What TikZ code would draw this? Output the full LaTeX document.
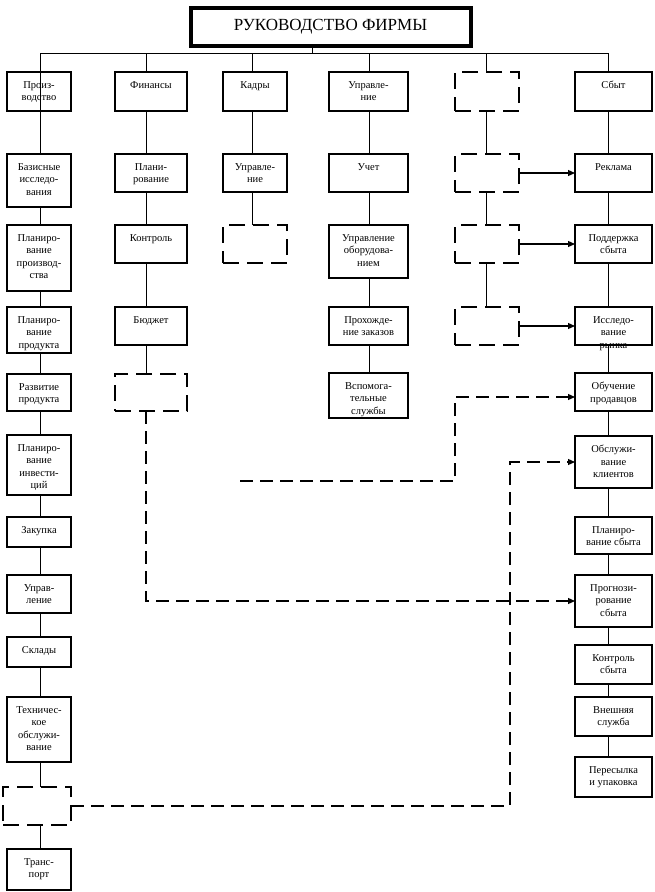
\documentclass[tikz,border=0pt]{standalone}
\usepackage{fontspec}
\setmainfont{Liberation Serif}
\usetikzlibrary{arrows.meta,backgrounds}

\begin{document}
\begin{tikzpicture}[x=1pt,y=-1pt,
  unit/.style={draw, line width=1.9pt, fill=white, anchor=north west, inner sep=0pt, outer sep=0pt},
  blank/.style={unit, line width=2.1pt, dash pattern=on 16pt off 8pt},
  lbl/.style={anchor=north, align=center, inner sep=0pt, yshift=-9pt, font=\fontsize{10.5}{12.5}\selectfont},
  wire/.style={line width=0.8pt},
  feed/.style={line width=1.2pt, -{Triangle[length=7pt,width=6pt]}},
  link/.style={feed, dash pattern=on 13pt off 7pt}]
\useasboundingbox (0,0) rectangle (654,892);
% head of the firm
\node[draw, line width=4pt, minimum width=280pt, minimum height=38pt, inner sep=0pt, anchor=north west, font=\fontsize{17}{20}\selectfont] (head) at (188.5,5.5) {РУКОВОДСТВО ФИРМЫ};
\coordinate (top) at (312,53);
\coordinate (c1) at (40,53);
\coordinate (c2) at (146,53);
\coordinate (c3) at (252,53);
\coordinate (c4) at (369,53);
\coordinate (c5) at (486,53);
\coordinate (c6) at (608,53);
\draw[wire] (top |- head.south) -- (top);
\draw[wire] (c1) -- (c6);
% production
\node[unit, fill=none, minimum width=64pt, minimum height=39pt, label={[lbl]north:{Произ-\\водство}}] (prod) at (7,72) {};
\node[unit, minimum width=64pt, minimum height=53pt, label={[lbl]north:{Базисные\\исследо-\\вания}}] (basic) at (7,154) {};
\node[unit, minimum width=64pt, minimum height=66pt, label={[lbl]north:{Планиро-\\вание\\производ-\\ства}}] (pplan) at (7,225) {};
\node[unit, minimum width=64pt, minimum height=46pt, label={[lbl]north:{Планиро-\\вание\\продукта}}] (prplan) at (7,307) {};
\node[unit, minimum width=64pt, minimum height=37pt, label={[lbl]north:{Развитие\\продукта}}] (devel) at (7,374) {};
\node[unit, minimum width=64pt, minimum height=60pt, label={[lbl]north:{Планиро-\\вание\\инвести-\\ций}}] (invest) at (7,435) {};
\node[unit, minimum width=64pt, minimum height=30pt, label={[lbl]north:{Закупка}}] (buy) at (7,517) {};
\node[unit, minimum width=64pt, minimum height=38pt, label={[lbl]north:{Управ-\\ление}}] (pmgmt) at (7,575) {};
\node[unit, minimum width=64pt, minimum height=30pt, label={[lbl]north:{Склады}}] (store) at (7,637) {};
\node[unit, minimum width=64pt, minimum height=65pt, label={[lbl]north:{Техничес-\\кое\\обслужи-\\вание}}] (tech) at (7,697) {};
\node[blank, minimum width=68pt, minimum height=38pt] (pd) at (3,787) {};
\node[unit, minimum width=64pt, minimum height=41pt, label={[lbl]north:{Транс-\\порт}}] (trans) at (7,849) {};
% finance
\node[unit, minimum width=72pt, minimum height=39pt, label={[lbl]north:{Финансы}}] (fin) at (115,72) {};
\node[unit, minimum width=72pt, minimum height=38pt, label={[lbl]north:{Плани-\\рование}}] (fplan) at (115,154) {};
\node[unit, minimum width=72pt, minimum height=38pt, label={[lbl]north:{Контроль}}] (fctrl) at (115,225) {};
\node[unit, minimum width=72pt, minimum height=38pt, label={[lbl]north:{Бюджет}}] (budget) at (115,307) {};
\node[blank, minimum width=72pt, minimum height=37pt] (bd) at (115,374) {};
% staff
\node[unit, minimum width=64pt, minimum height=39pt, label={[lbl]north:{Кадры}}] (staff) at (223,72) {};
\node[unit, minimum width=64pt, minimum height=38pt, label={[lbl]north:{Управле-\\ние}}] (smgmt) at (223,154) {};
\node[blank, minimum width=64pt, minimum height=38pt] (sd) at (223,225) {};
% management
\node[unit, minimum width=79pt, minimum height=39pt, label={[lbl]north:{Управле-\\ние}}] (ctl) at (329,72) {};
\node[unit, minimum width=79pt, minimum height=38pt, label={[lbl]north:{Учет}}] (acc) at (329,154) {};
\node[unit, minimum width=79pt, minimum height=53pt, label={[lbl]north:{Управление\\оборудова-\\нием}}] (equip) at (329,225) {};
\node[unit, minimum width=79pt, minimum height=38pt, label={[lbl]north:{Прохожде-\\ние заказов}}] (orders) at (329,307) {};
\node[unit, minimum width=79pt, minimum height=45pt, label={[lbl]north:{Вспомога-\\тельные\\службы}}] (aux) at (329,373) {};
% empty column
\node[blank, minimum width=64pt, minimum height=39pt] (d1) at (455,72) {};
\node[blank, minimum width=64pt, minimum height=38pt] (d2) at (455,154) {};
\node[blank, minimum width=64pt, minimum height=38pt] (d3) at (455,225) {};
\node[blank, minimum width=64pt, minimum height=38pt] (d4) at (455,307) {};
% sales
\node[unit, minimum width=77pt, minimum height=39pt, label={[lbl]north:{Сбыт}}] (sales) at (575,72) {};
\node[unit, minimum width=77pt, minimum height=38pt, label={[lbl]north:{Реклама}}] (ad) at (575,154) {};
\node[unit, minimum width=77pt, minimum height=38pt, label={[lbl]north:{Поддержка\\сбыта}}] (supp) at (575,225) {};
\node[unit, minimum width=77pt, minimum height=38pt, label={[lbl]north:{Исследо-\\вание\\рынка}}] (res) at (575,307) {};
\node[unit, minimum width=77pt, minimum height=38pt, label={[lbl]north:{Обучение\\продавцов}}] (train) at (575,373) {};
\node[unit, minimum width=77pt, minimum height=52pt, label={[lbl]north:{Обслужи-\\вание\\клиентов}}] (serv) at (575,436) {};
\node[unit, minimum width=77pt, minimum height=37pt, label={[lbl]north:{Планиро-\\вание сбыта}}] (splan) at (575,517) {};
\node[unit, minimum width=77pt, minimum height=52pt, label={[lbl]north:{Прогнози-\\рование\\сбыта}}] (fcst) at (575,575) {};
\node[unit, minimum width=77pt, minimum height=39pt, label={[lbl]north:{Контроль\\сбыта}}] (sctrl) at (575,645) {};
\node[unit, minimum width=77pt, minimum height=39pt, label={[lbl]north:{Внешняя\\служба}}] (ext) at (575,697) {};
\node[unit, minimum width=77pt, minimum height=40pt, label={[lbl]north:{Пересылка\\и упаковка}}] (ship) at (575,757) {};
% column lines behind the boxes
\begin{scope}[on background layer]
\draw[wire] (c1) -- (c1 |- trans.north);
\draw[wire] (c2) -- (c2 |- bd.north);
\draw[wire] (c3) -- (c3 |- sd.north);
\draw[wire] (c4) -- (c4 |- aux.north);
\draw[wire] (c5) -- (c5 |- d4.north);
\draw[wire] (c6) -- (c6 |- ship.north);
\end{scope}
\draw[feed] (d2.east) -- (ad.west);
\draw[feed] (d3.east) -- (supp.west);
\draw[feed] (d4.east) -- (res.west);
% dashed links
\coordinate (tail) at (240,481);
\coordinate (t1) at ([yshift=-5pt]train.west);
\coordinate (j3) at (510,0);
\draw[link] (tail) -| (d4.west |- t1) -- (t1);
\draw[link] (c2 |- bd.south) |- (fcst.west);
\draw[link] (pd.east) -| (j3 |- serv.west) -- (serv.west);
\end{tikzpicture}
\end{document}
